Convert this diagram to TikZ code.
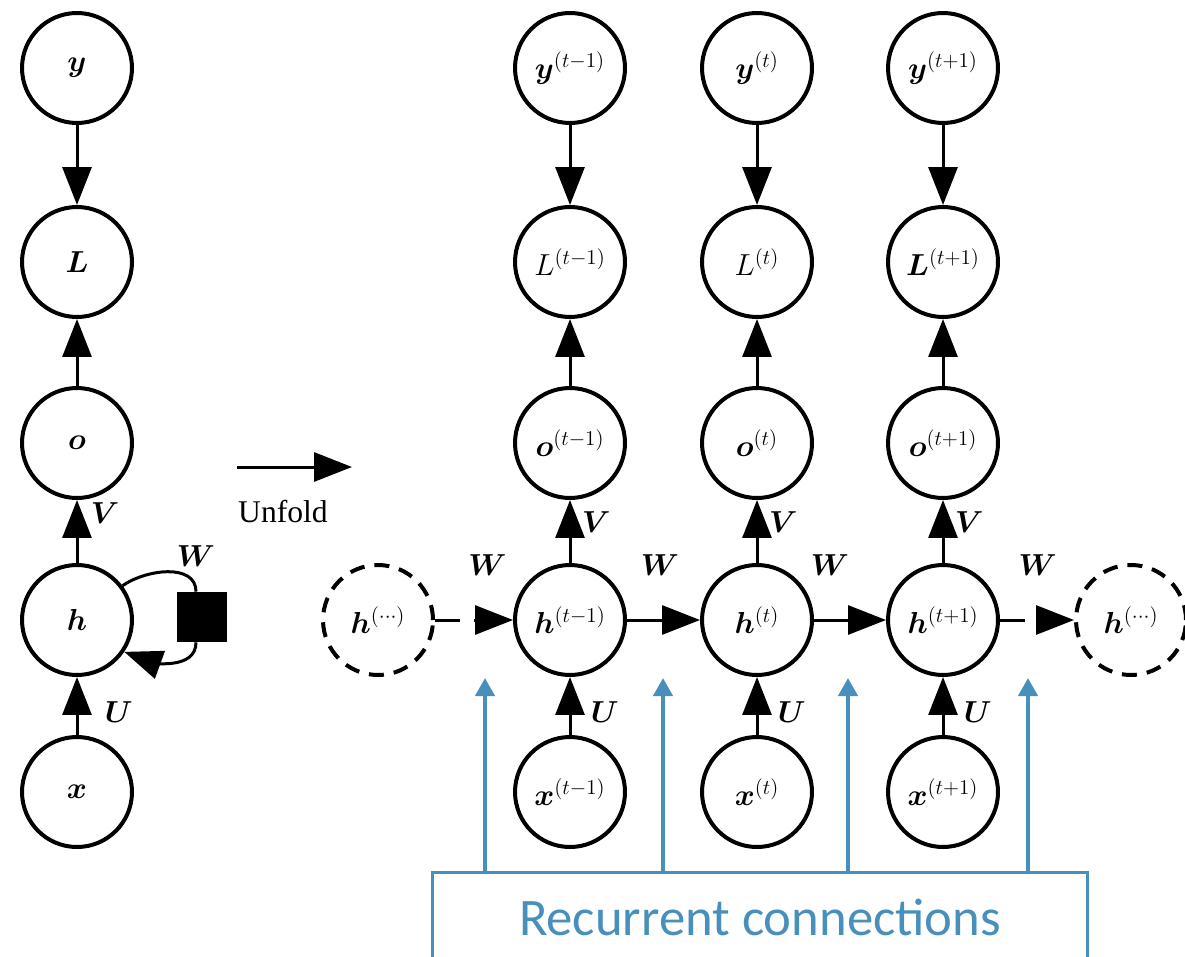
\documentclass[tikz,border=0pt]{standalone}
\usepackage{fontspec}
\usepackage{bm}
\newfontfamily\calibrif{Carlito}
\newfontfamily\timesf{Liberation Serif}
\usetikzlibrary{arrows.meta}
\definecolor{rcblue}{RGB}{72,143,187}
\tikzset{
  unit/.style={circle, draw, line width=0.08cm, minimum size=2.2cm, inner sep=0pt,
    font=\fontsize{18}{22}\selectfont},
  ghost/.style={unit, dash pattern=on 0.3cm off 0.2cm},
  arr/.style={line width=0.06cm, -{Triangle[length=0.76cm, width=0.58cm]}},
  dasharr/.style={arr, dash pattern=on 0.5cm off 0.28cm},
  lab/.style={font=\fontsize{18}{22}\selectfont, inner sep=1pt},
  rcarr/.style={draw=rcblue, line width=0.08cm, -{Triangle[length=0.36cm, width=0.38cm]}, rcblue},
  rcbox/.style={draw=rcblue, line width=0.06cm, minimum width=13.1cm, minimum height=1.8cm,
    text=rcblue, font=\calibrif\fontsize{30}{36}\selectfont},
  wbox/.style={rectangle, fill=black, minimum size=1cm, inner sep=0pt},
}
\begin{document}
\begin{tikzpicture}[x=0.02cm, y=0.02cm]
\useasboundingbox (0,0) rectangle (1185,-956);
\clip (0,0) rectangle (1185,-956);

% ---------- folded network ----------
\node[unit] (y0) at (77,-68) {$\bm y$};
\node[unit] (L0) at (77,-262) {$\bm L$};
\node[unit] (o0) at (77,-443) {$\bm o$};
\node[unit] (h0) at (77,-620) {$\bm h$};
\node[unit] (x0) at (77,-792) {$\bm x$};
\node[wbox] (sq) at (202,-617) {};
\node[lab] (wl) at (196,-556) {$\bm W$};

\draw[arr] (y0) -- (L0);
\draw[arr] (o0) -- (L0);
\draw[arr] (h0) -- node[lab, pos=0.8, right=6pt] {$\bm V$} (o0);
\draw[arr] (x0) -- node[lab, pos=0.4, right=14pt] {$\bm U$} (h0);
\draw[line width=0.06cm] (h0.37) to[out=35, in=90] ([xshift=-0.12cm]sq.north);
\draw[arr] ([xshift=-0.12cm]sq.south) to[out=-90, in=-20] (h0.-34);

% ---------- unfold arrow ----------
\coordinate (u1) at (237,-467);
\coordinate (u2) at (352,-467);
\draw[arr] (u1) -- node[pos=0.4, yshift=-0.9cm, font=\timesf\fontsize{18}{22}\selectfont] {Unfold} (u2);

% ---------- unfolded network ----------
\node[unit] (y1) at (570,-68) {$\bm y^{(t-1)}$};
\node[unit] (y2) at (757,-68) {$\bm y^{(t)}$};
\node[unit] (y3) at (943,-68) {$\bm y^{(t+1)}$};

\node[unit] (L1) at (570,-262) {$L^{(t-1)}$};
\node[unit] (L2) at (757,-262) {$L^{(t)}$};
\node[unit] (L3) at (943,-262) {$\bm L^{(t+1)}$};

\node[unit] (o1) at (570,-443) {$\bm o^{(t-1)}$};
\node[unit] (o2) at (757,-443) {$\bm o^{(t)}$};
\node[unit] (o3) at (943,-443) {$\bm o^{(t+1)}$};

\node[ghost] (hL) at (378,-620) {$\bm h^{(\cdots)}$};
\node[unit] (h1) at (570,-620) {$\bm h^{(t-1)}$};
\node[unit] (h2) at (757,-620) {$\bm h^{(t)}$};
\node[unit] (h3) at (943,-620) {$\bm h^{(t+1)}$};
\node[ghost] (hR) at (1131,-620) {$\bm h^{(\cdots)}$};

\node[unit] (x1) at (570,-792) {$\bm x^{(t-1)}$};
\node[unit] (x2) at (757,-792) {$\bm x^{(t)}$};
\node[unit] (x3) at (943,-792) {$\bm x^{(t+1)}$};

\foreach \i in {1,2,3}{
  \draw[arr] (y\i) -- (L\i);
  \draw[arr] (o\i) -- (L\i);
  \draw[arr] (h\i) -- node[lab, pos=0.65, right=5pt] {$\bm V$} (o\i);
  \draw[arr] (x\i) -- node[lab, pos=0.4, right=10pt] {$\bm U$} (h\i);
}

\draw[dasharr] (hL) -- node[lab, pos=0.67, yshift=1.1cm] {$\bm W$} (h1);
\draw[arr] (h1) -- node[lab, pos=0.45, yshift=1.1cm] {$\bm W$} (h2);
\draw[arr] (h2) -- node[lab, pos=0.22, yshift=1.1cm] {$\bm W$} (h3);
\draw[dasharr] (h3) -- node[lab, pos=0.51, yshift=1.1cm] {$\bm W$} (hR);

% ---------- recurrent connections ----------
\node[rcbox] (rc) at (760,-917) {Recurrent connections};
\coordinate (a1) at (485,-678);
\coordinate (a2) at (663,-678);
\coordinate (a3) at (848,-678);
\coordinate (a4) at (1028,-678);
\foreach \k in {1,2,3,4}{
  \draw[rcarr] (rc.north -| a\k) -- (a\k);
}
\end{tikzpicture}
\end{document}
